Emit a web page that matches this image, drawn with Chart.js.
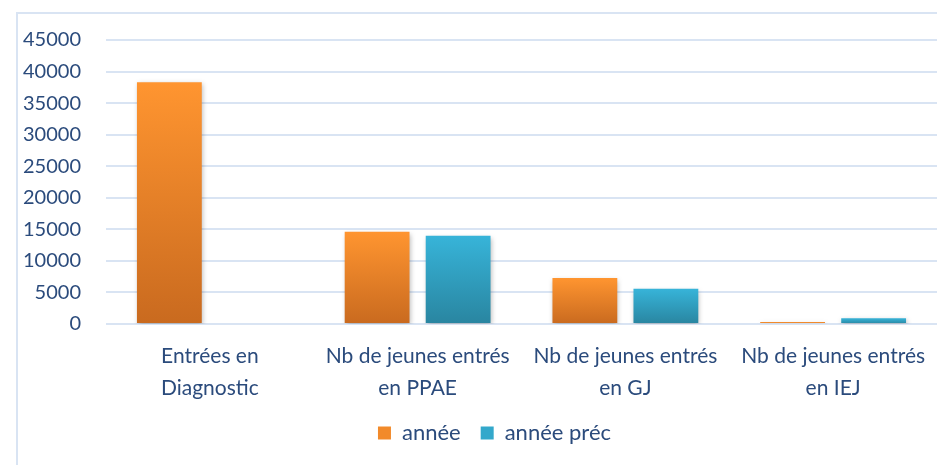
<!DOCTYPE html>
<html>
<head>
<meta charset="utf-8">
<script src="https://cdn.jsdelivr.net/npm/chart.js@4/dist/chart.umd.min.js"></script>
<style>
  html, body { margin: 0; padding: 0; background: #fff; }
  #wrap { position: relative; width: 937px; height: 465px; }
  #frame { position: absolute; left: 16px; top: 12px; width: 940px; height: 460px;
           border-left: 2px solid #D9E4F3; border-top: 2px solid #D9E4F3; box-sizing: border-box; }
  canvas { position: absolute; left: 0; top: 0; }
</style>
</head>
<body>
<div id="wrap">
  <div id="frame"></div>
  <canvas id="chart" width="937" height="465"></canvas>
</div>
<script>
// Daten
const categories = [
    ['Entrées en', 'Diagnostic'],
    ['Nb de jeunes entrés', 'en PPAE'],
    ['Nb de jeunes entrés', 'en GJ'],
    ['Nb de jeunes entrés', 'en IEJ']
];
const anneeValues = [38300, 14600, 7300, 320];
const anneePrecValues = [null, 14000, 5600, 900];
const yTicks = [0, 5000, 10000, 15000, 20000, 25000, 30000, 35000, 40000, 45000];

const textColor = '#2B4B7C';
const gridColor = '#D9E4F3';
const fontFamily = 'Lato, "Open Sans", sans-serif';

// Farbverlauf pro Balken (oben hell, unten dunkel)
function barGradient(top, bottom, solid) {
    return (ctx) => {
        const chart = ctx.chart;
        if (ctx.type !== 'data' || !chart.chartArea || ctx.raw == null) return solid;
        const y = chart.scales.y;
        const y0 = y.getPixelForValue(ctx.raw);
        const y1 = y.getPixelForValue(0);
        if (!(y1 > y0)) return solid;
        const g = chart.ctx.createLinearGradient(0, y0, 0, y1);
        g.addColorStop(0, top);
        g.addColorStop(1, bottom);
        return g;
    };
}

// Schatten unter den Balken
const shadowPlugin = {
    id: 'barShadow',
    beforeDatasetsDraw(chart) {
        const c = chart.ctx;
        c.save();
        c.shadowColor = 'rgba(0,0,0,0.28)';
        c.shadowBlur = 5;
        c.shadowOffsetX = 1;
        c.shadowOffsetY = 2;
    },
    afterDatasetsDraw(chart) {
        chart.ctx.restore();
    }
};

// Legende etwas nach rechts schieben (Mitte der Zeichenfläche)
const legendShift = {
    id: 'legendShift',
    afterLayout(chart) {
        const l = chart.legend;
        if (!l) return;
        l.left += 26;
        l.right += 26;
    }
};

new Chart(document.getElementById('chart').getContext('2d'), {
    type: 'bar',
    data: {
        labels: categories,
        datasets: [
            {
                label: 'année',
                data: anneeValues,
                backgroundColor: barGradient('#FF9530', '#C96A1F', '#EC8125'),
                categoryPercentage: 0.78,
                barPercentage: 0.8
            },
            {
                label: 'année préc',
                data: anneePrecValues,
                backgroundColor: barGradient('#37B4D9', '#2985A0', '#309DBD'),
                categoryPercentage: 0.78,
                barPercentage: 0.8
            }
        ]
    },
    options: {
        responsive: false,
        animation: false,
        layout: { padding: { top: 40, right: 0, bottom: 11, left: 0 } },
        plugins: {
            tooltip: { enabled: false },
            legend: {
                position: 'bottom',
                labels: {
                    color: textColor,
                    font: { family: fontFamily, size: 22 },
                    boxWidth: 13,
                    boxHeight: 13,
                    padding: 20,
                    generateLabels(chart) {
                        const solids = ['#F28A2A', '#33A8CB'];
                        return chart.data.datasets.map((ds, i) => ({
                            text: ds.label,
                            fillStyle: solids[i],
                            strokeStyle: solids[i],
                            lineWidth: 0,
                            hidden: false,
                            datasetIndex: i,
                            fontColor: textColor
                        }));
                    }
                }
            }
        },
        scales: {
            x: {
                grid: { display: false },
                border: { display: false },
                afterFit(axis) { axis.height = 78; },
                ticks: {
                    color: textColor,
                    font: { family: fontFamily, size: 21, lineHeight: 1.52 },
                    maxRotation: 0,
                    autoSkip: false,
                    padding: 8
                }
            },
            y: {
                min: 0,
                max: 45000,
                afterBuildTicks(axis) {
                    axis.ticks = yTicks.map(v => ({ value: v }));
                },
                afterFit(axis) { axis.width = 106; },
                grid: { color: gridColor, lineWidth: 2, drawTicks: false },
                border: { display: false },
                ticks: {
                    color: textColor,
                    font: { family: fontFamily, size: 20 },
                    padding: 25,
                    callback: v => String(v)
                }
            }
        }
    },
    plugins: [shadowPlugin, legendShift]
});
</script>
</body>
</html>
